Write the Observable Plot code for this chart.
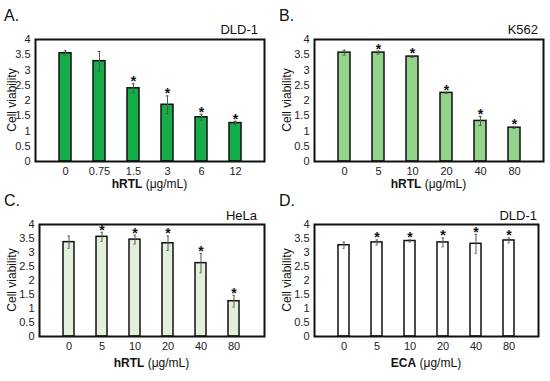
<!DOCTYPE html>
<html><head><meta charset="utf-8">
<script src="https://cdn.jsdelivr.net/npm/d3@7"></script>
<script src="https://cdn.jsdelivr.net/npm/@observablehq/plot@0.6"></script>
<style>
body{margin:0;background:#fff;font-family:"Liberation Sans",Arial,sans-serif;}
#wrap{position:relative;width:550px;height:381px;overflow:hidden;}
.panel{position:absolute;}
.letter{position:absolute;font-size:16px;color:#111;line-height:normal;}
.title{position:absolute;font-size:13px;color:#111;text-align:right;line-height:normal;}
.xlab{position:absolute;font-size:12px;color:#111;text-align:center;width:240px;height:14px;line-height:14px;}
.ylab{position:absolute;font-size:12px;color:#111;width:120px;height:14px;line-height:14px;text-align:center;transform:rotate(-90deg);}
</style></head>
<body><div id="wrap"></div>
<script>
// Panel A: DLD-1, hRTL
const dosesA = ["0","0.75","1.5","3","6","12"];
const valuesA = [3.55, 3.29, 2.40, 1.86, 1.45, 1.26];
const errorsA = [0.08, 0.32, 0.15, 0.29, 0.10, 0.06];
const starsA = [false, false, true, true, true, true];
// Panel B: K562, hRTL
const dosesB = ["0","5","10","20","40","80"];
const valuesB = [3.57, 3.57, 3.44, 2.25, 1.33, 1.11];
const errorsB = [0.08, 0.05, 0.03, 0.02, 0.15, 0.03];
const starsB = [false, true, true, true, true, true];
// Panel C: HeLa, hRTL
const dosesC = ["0","5","10","20","40","80"];
const valuesC = [3.37, 3.56, 3.46, 3.33, 2.62, 1.26];
const errorsC = [0.22, 0.16, 0.16, 0.26, 0.35, 0.21];
const starsC = [false, true, true, true, true, true];
// Panel D: DLD-1, ECA
const dosesD = ["0","5","10","20","40","80"];
const valuesD = [3.26, 3.36, 3.41, 3.36, 3.31, 3.43];
const errorsD = [0.11, 0.09, 0.04, 0.16, 0.34, 0.09];
const starsD = [false, true, true, true, true, true];
const yTicks = [0, 0.5, 1, 1.5, 2, 2.5, 3, 3.5, 4];

const panels = [
  {letter:"A.", title:"DLD-1", agent:"hRTL", doses:dosesA, values:valuesA, errors:errorsA, stars:starsA, fill:"#14ad48",
   left:0, top:0, h:190, ml:35, mr:11, mt:39, mb:29, titleBase:34, titleRight:258, letterBase:21, xlabGap:23},
  {letter:"B.", title:"K562", agent:"hRTL", doses:dosesB, values:valuesB, errors:errorsB, stars:starsB, fill:"#93d48c",
   left:275, top:0, h:190, ml:39, mr:7, mt:39, mb:29, titleBase:34, titleRight:538, letterBase:21, xlabGap:23},
  {letter:"C.", title:"HeLa", agent:"hRTL", doses:dosesC, values:valuesC, errors:errorsC, stars:starsC, fill:"#e2f0d9",
   left:0, top:190, h:191, ml:39, mr:11, mt:34, mb:45, titleBase:220, titleRight:257, letterBase:206, xlabGap:27},
  {letter:"D.", title:"DLD-1", agent:"ECA", doses:dosesD, values:valuesD, errors:errorsD, stars:starsD, fill:"#ffffff",
   left:275, top:190, h:191, ml:39, mr:12, mt:34, mb:45, titleBase:220, titleRight:537, letterBase:206, xlabGap:27}
];

const wrap = document.getElementById("wrap");
for (const p of panels) {
  const data = p.doses.map((d,i)=>({dose:d, v:p.values[i], e:p.errors[i], star:p.stars[i]}));
  const plot = Plot.plot({
    width: 275, height: p.h,
    marginLeft: p.ml, marginRight: p.mr, marginTop: p.mt, marginBottom: p.mb,
    style: {fontFamily: "Liberation Sans, Arial, sans-serif", fontSize: "11px", color: "#222", background: "transparent"},
    x: {domain: p.doses, padding: 0.66, align: 0.5},
    y: {domain: [0, 4]},
    marks: [
      Plot.barY(data, {x:"dose", y:"v", fill:p.fill, stroke:"#111", strokeWidth:1.5}),
      Plot.ruleX(data, {x:"dose", y1:d=>d.v-d.e, y2:d=>d.v+d.e, stroke:"#555", strokeWidth:1}),
      Plot.tickY(data, {x:"dose", y:d=>d.v+d.e, stroke:"#555", strokeWidth:1, insetLeft:4.5, insetRight:4.5}),
      Plot.tickY(data, {x:"dose", y:d=>d.v-d.e, stroke:"#555", strokeWidth:1, insetLeft:4.5, insetRight:4.5}),
      Plot.text(data.filter(d=>d.star), {x:"dose", y:d=>d.v+d.e, text:()=>"*", fontSize:14, fontWeight:"bold", dy:-2, fill:"#111"}),
      Plot.axisY({ticks:yTicks, tickFormat:d=>String(d), tickSize:0, tickPadding:5, label:null, fontSize:11}),
      Plot.axisX({tickSize:0, tickPadding:6, label:null, fontSize:11}),
      Plot.frame({stroke:"#111", strokeWidth:2})
    ]
  });
  plot.classList.add("panel");
  plot.style.left = p.left + "px";
  plot.style.top = p.top + "px";
  wrap.appendChild(plot);

  const L = document.createElement("div");
  L.className = "letter"; L.textContent = p.letter;
  L.style.left = (p.left + 4) + "px"; L.style.top = (p.letterBase - 0.905*16) + "px";
  wrap.appendChild(L);

  const T = document.createElement("div");
  T.className = "title"; T.textContent = p.title;
  T.style.right = (550 - p.titleRight) + "px";
  T.style.top = (p.titleBase - 0.905*13) + "px";
  wrap.appendChild(T);

  const Y = document.createElement("div");
  Y.className = "ylab"; Y.textContent = "Cell viability";
  const cy = p.top + p.mt + (p.h - p.mt - p.mb)/2;
  Y.style.left = (p.left + 12 - 60) + "px";
  Y.style.top = (cy - 7) + "px";
  wrap.appendChild(Y);

  const X = document.createElement("div");
  X.className = "xlab";
  X.innerHTML = "<b>" + p.agent + "</b> (μg/mL)";
  const cx = p.left + p.ml + (275 - p.ml - p.mr)/2;
  const frameBottom = p.top + p.h - p.mb;
  X.style.left = (cx - 120) + "px";
  X.style.top = (frameBottom + p.xlabGap - 7) + "px";
  wrap.appendChild(X);
}
</script></body></html>
